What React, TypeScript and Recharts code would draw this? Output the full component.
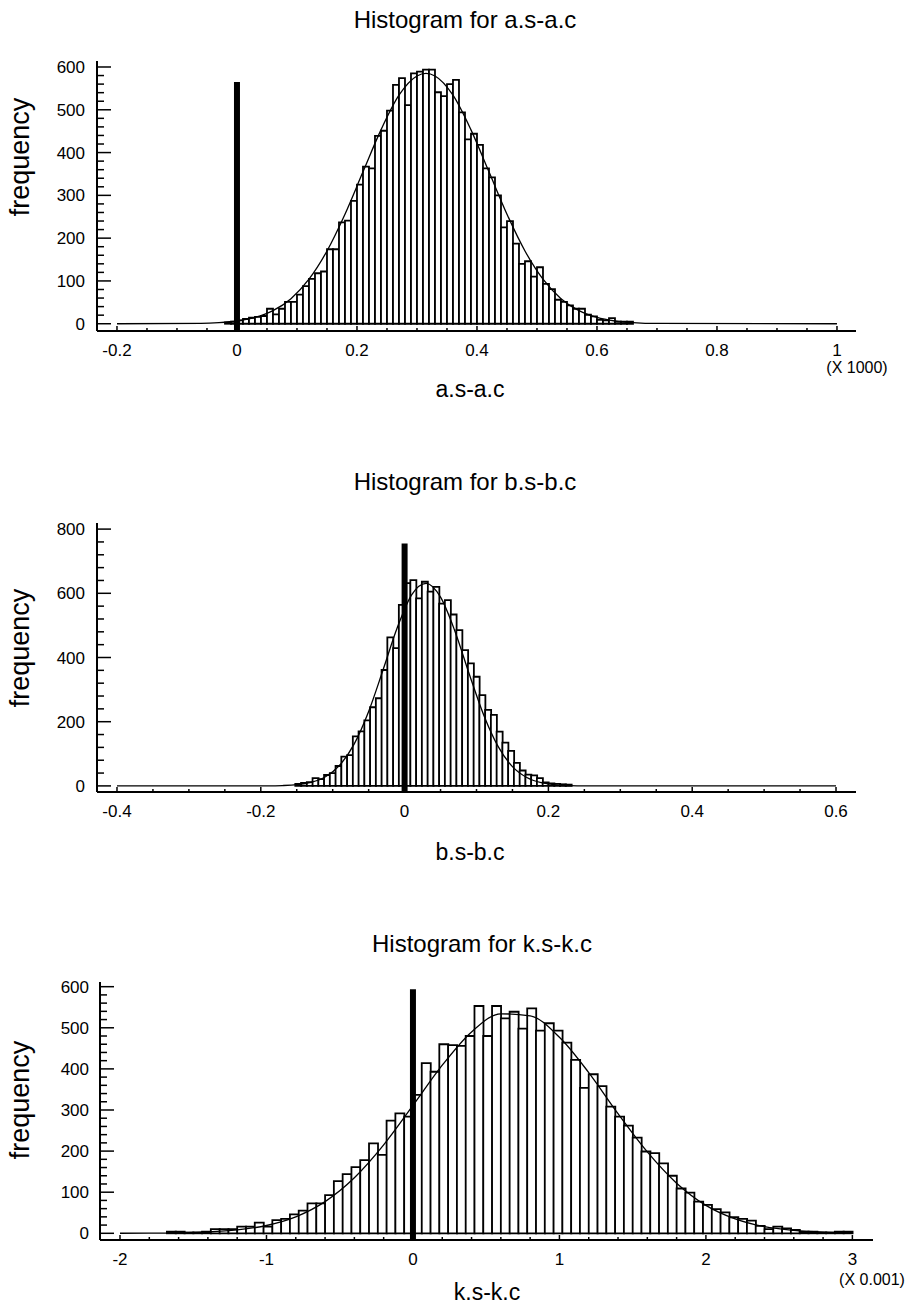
import React from 'react';
import { ComposedChart, Bar, Line, XAxis, YAxis, ReferenceLine } from 'recharts';

const FONT = '"Liberation Sans", Arial, Helvetica, sans-serif';

// ---- panel 1: a.s-a.c (x axis shown X 1000) ----
const aBinStart = -0.02;
const aBinWidth = 0.01;
const aCounts = [3, 5, 8, 11, 14, 16, 18, 35, 22, 35, 51, 51, 68, 88, 105, 118, 122, 174, 174, 237, 241, 287, 325, 367, 363, 439, 451, 498, 558, 574, 511, 585, 589, 594, 594, 541, 532, 560, 570, 494, 431, 444, 418, 363, 342, 300, 225, 240, 187, 140, 146, 110, 132, 93, 81, 56, 51, 43, 35, 35, 21, 17, 9, 8, 13, 5, 5, 5];
const aFitX = [-0.2, -0.06, -0.03, 0, 0.03, 0.06, 0.09, 0.12, 0.15, 0.18, 0.21, 0.24, 0.27, 0.3, 0.315, 0.33, 0.36, 0.39, 0.42, 0.45, 0.48, 0.51, 0.54, 0.57, 0.6, 0.63, 0.66, 0.7, 1.0];
const aFitY = [0, 0.8, 2.5, 6.4, 14.6, 30.5, 58.6, 104, 170, 256, 355, 453, 534, 579, 585, 579, 534, 453, 355, 256, 170, 104, 58.6, 30.5, 14.6, 6.4, 2.6, 0.6, 0];
const aXMajor = [-0.2, 0, 0.2, 0.4, 0.6, 0.8, 1];
const aYMajor = [0, 100, 200, 300, 400, 500, 600];
const aMarker = 565;

// ---- panel 2: b.s-b.c ----
const bBinStart = -0.152;
const bBinWidth = 0.008;
const bCounts = [6, 9, 12, 24, 21, 34, 40, 62, 91, 96, 154, 170, 204, 245, 273, 361, 463, 429, 564, 632, 641, 584, 636, 605, 620, 568, 579, 534, 485, 423, 382, 340, 283, 237, 221, 169, 135, 109, 72, 48, 35, 33, 24, 11, 8, 6, 5, 4];
const bFitX = [-0.4, -0.19, -0.17, -0.15, -0.13, -0.11, -0.09, -0.07, -0.05, -0.03, -0.01, 0.01, 0.03, 0.05, 0.07, 0.09, 0.11, 0.13, 0.15, 0.17, 0.19, 0.21, 0.23, 0.25, 0.6];
const bFitY = [0, 0.3, 1.1, 3.7, 11, 28.5, 65, 131, 232, 361, 494, 596, 631, 588, 482, 348, 221, 123, 60, 26, 9.9, 3.3, 1, 0.3, 0];
const bXMajor = [-0.4, -0.2, 0, 0.2, 0.4, 0.6];
const bYMajor = [0, 200, 400, 600, 800];
const bMarker = 755;

// ---- panel 3: k.s-k.c (x axis shown X 0.001) ----
const kBinStart = -1.68;
const kBinWidth = 0.06;
const kCounts = [4, 4, 2, 2, 4, 10, 10, 10, 16, 16, 26, 16, 32, 35, 46, 55, 73, 73, 93, 127, 144, 161, 178, 219, 191, 274, 292, 284, 337, 414, 393, 460, 458, 456, 480, 553, 480, 553, 523, 539, 498, 547, 493, 511, 493, 464, 422, 354, 387, 358, 308, 284, 262, 233, 199, 195, 170, 140, 109, 99, 77, 69, 59, 51, 39, 35, 31, 18, 10, 16, 12, 8, 4, 4, 2, 2, 4, 4];
const kFitX = [-2, -1.8, -1.6, -1.4, -1.2, -1, -0.8, -0.6, -0.4, -0.2, 0, 0.2, 0.4, 0.6, 0.8, 1, 1.2, 1.4, 1.6, 1.8, 2, 2.2, 2.4, 2.6, 2.8, 3];
const kFitY = [0.1, 0.4, 1.1, 3.2, 8.2, 19, 40, 77, 135, 215, 311, 409, 490, 534, 529, 477, 391, 291, 198, 122, 68, 35, 16, 6.9, 2.6, 0.9];
const kXMajor = [-2, -1, 0, 1, 2, 3];
const kYMajor = [0, 100, 200, 300, 400, 500, 600];
const kMarker = 594;

const isIn = (arr: number[], v: number) => arr.some((a) => Math.abs(a - v) < 1e-7);

const minors = (from: number, to: number, step: number, skip: number[]) => {
  const out: number[] = [];
  for (let i = 0; from + i * step <= to + 1e-9; i++) {
    const v = Math.round((from + i * step) * 1e6) / 1e6;
    if (!isIn(skip, v)) out.push(v);
  }
  return out;
};

const XTick = (props: any) => {
  const { x, y, payload, side, majors } = props;
  const major = isIn(majors, payload.value);
  const len = major ? 5 : 3;
  const dir = side === 'bottom' ? -1 : 1;
  return (
    <g>
      <line x1={x} x2={x} y1={y} y2={y + dir * len} stroke="#000" strokeWidth={1.5} />
      {side === 'bottom' && major && (
        <text x={x} y={y + 25} textAnchor="middle" fontSize={17} fontFamily={FONT} fill="#000">
          {String(payload.value)}
        </text>
      )}
    </g>
  );
};

const YTick = (props: any) => {
  const { x, y, payload, side, majors, gap } = props;
  const major = isIn(majors, payload.value);
  const len = major ? 14 : 7;
  const dir = side === 'left' ? 1 : -1;
  return (
    <g>
      <line x1={x} x2={x + dir * len} y1={y} y2={y} stroke="#000" strokeWidth={1.5} />
      {side === 'left' && major && (
        <text x={x - gap} y={y + 6} textAnchor="end" fontSize={17} fontFamily={FONT} fill="#000">
          {String(payload.value)}
        </text>
      )}
    </g>
  );
};

type PanelProps = {
  top: number;
  left: number;
  right: number;
  bottom: number;
  xDomain: [number, number];
  yDomain: [number, number];
  counts: number[];
  binStart: number;
  binWidth: number;
  fitX: number[];
  fitY: number[];
  xMajor: number[];
  xStep: number;
  yMajor: number[];
  yStep: number;
  marker: number;
  labelGap: number;
};

function Panel(p: PanelProps) {
  const bins = p.counts.map((c, i) => ({ x: p.binStart + (i + 0.5) * p.binWidth, count: c }));
  const fit = p.fitX.map((x, i) => ({ fx: x, fit: p.fitY[i] }));
  const xTicks = [...p.xMajor, ...minors(p.xMajor[0], p.xMajor[p.xMajor.length - 1], p.xStep, p.xMajor)].sort((a, b) => a - b);
  const yTicks = [...p.yMajor, ...minors(0, p.yMajor[p.yMajor.length - 1], p.yStep, p.yMajor)].sort((a, b) => a - b);
  const axisLine = { stroke: '#000', strokeWidth: 2 };
  return (
    <div style={{ position: 'absolute', left: 0, top: p.top - 10 }}>
      <ComposedChart
        width={917}
        height={p.bottom - p.top + 50}
        data={bins}
        barCategoryGap={0}
        barGap={0}
        margin={{ top: 10, right: 917 - p.right, bottom: 0, left: 0 }}
      >
        <XAxis
          xAxisId="b"
          type="number"
          dataKey="x"
          domain={p.xDomain}
          allowDataOverflow
          ticks={xTicks}
          interval={0}
          height={40}
          tickSize={0}
          tickMargin={0}
          tickLine={false}
          axisLine={axisLine}
          tick={(t: any) => <XTick {...t} side="bottom" majors={p.xMajor} />}
        />
        <XAxis
          xAxisId="t"
          orientation="top"
          type="number"
          dataKey="x"
          domain={p.xDomain}
          allowDataOverflow
          ticks={xTicks}
          interval={0}
          height={0}
          tickSize={0}
          tickMargin={0}
          tickLine={false}
          axisLine={axisLine}
          tick={(t: any) => <XTick {...t} side="top" majors={p.xMajor} />}
        />
        <XAxis xAxisId="f" type="number" dataKey="fx" domain={p.xDomain} allowDataOverflow hide />
        <YAxis
          yAxisId="l"
          type="number"
          domain={p.yDomain}
          allowDataOverflow
          ticks={yTicks}
          interval={0}
          width={p.left}
          tickSize={0}
          tickMargin={0}
          tickLine={false}
          axisLine={axisLine}
          tick={(t: any) => <YTick {...t} side="left" majors={p.yMajor} gap={p.labelGap} />}
        />
        <YAxis
          yAxisId="r"
          orientation="right"
          type="number"
          domain={p.yDomain}
          allowDataOverflow
          ticks={yTicks}
          interval={0}
          width={0}
          tickSize={0}
          tickMargin={0}
          tickLine={false}
          axisLine={axisLine}
          tick={(t: any) => <YTick {...t} side="right" majors={p.yMajor} gap={0} />}
        />
        <Bar
          xAxisId="b"
          yAxisId="l"
          dataKey="count"
          fill="#fff"
          stroke="#000"
          strokeWidth={1.8}
          isAnimationActive={false}
        />
        <Line
          xAxisId="f"
          yAxisId="l"
          data={fit}
          dataKey="fit"
          type="monotone"
          stroke="#000"
          strokeWidth={1.3}
          dot={false}
          isAnimationActive={false}
        />
        <ReferenceLine
          xAxisId="b"
          yAxisId="l"
          segment={[{ x: 0, y: p.yDomain[0] }, { x: 0, y: p.marker }]}
          stroke="#000"
          strokeWidth={6}
          ifOverflow="visible"
        />
      </ComposedChart>
    </div>
  );
}

const txt = { fontFamily: FONT, fill: '#000' };

export default function App() {
  return (
    <div style={{ position: 'absolute', left: 0, top: 0, width: 917, height: 1309, background: '#fff' }}>
      <Panel
        top={61}
        left={97}
        right={856}
        bottom={331}
        xDomain={[-0.2333, 1.0317]}
        yDomain={[-17, 614]}
        counts={aCounts}
        binStart={aBinStart}
        binWidth={aBinWidth}
        fitX={aFitX}
        fitY={aFitY}
        xMajor={aXMajor}
        xStep={0.05}
        yMajor={aYMajor}
        yStep={20}
        marker={aMarker}
        labelGap={12}
      />
      <Panel
        top={523}
        left={97}
        right={856}
        bottom={792}
        xDomain={[-0.4278, 0.6278]}
        yDomain={[-19, 819]}
        counts={bCounts}
        binStart={bBinStart}
        binWidth={bBinWidth}
        fitX={bFitX}
        fitY={bFitY}
        xMajor={bXMajor}
        xStep={0.05}
        yMajor={bYMajor}
        yStep={40}
        marker={bMarker}
        labelGap={12}
      />
      <Panel
        top={982}
        left={100}
        right={873}
        bottom={1240}
        xDomain={[-2.1366, 3.1408]}
        yDomain={[-16.3, 611.4]}
        counts={kCounts}
        binStart={kBinStart}
        binWidth={kBinWidth}
        fitX={kFitX}
        fitY={kFitY}
        xMajor={kXMajor}
        xStep={0.2}
        yMajor={kYMajor}
        yStep={20}
        marker={kMarker}
        labelGap={11}
      />
      <svg width={917} height={1309} style={{ position: 'absolute', left: 0, top: 0, pointerEvents: 'none' }}>
        <text x={465} y={28} textAnchor="middle" fontSize={24} {...txt}>Histogram for a.s-a.c</text>
        <text x={470} y={397} textAnchor="middle" fontSize={23} {...txt}>a.s-a.c</text>
        <text x={857} y={373} textAnchor="middle" fontSize={16} {...txt}>(X 1000)</text>
        <text x={29} y={157} textAnchor="middle" fontSize={27} transform="rotate(-90 29 157)" {...txt}>frequency</text>

        <text x={465} y={490} textAnchor="middle" fontSize={24} {...txt}>Histogram for b.s-b.c</text>
        <text x={470} y={860} textAnchor="middle" fontSize={23} {...txt}>b.s-b.c</text>
        <text x={29} y={648} textAnchor="middle" fontSize={27} transform="rotate(-90 29 648)" {...txt}>frequency</text>

        <text x={482} y={952} textAnchor="middle" fontSize={24} {...txt}>Histogram for k.s-k.c</text>
        <text x={487} y={1300} textAnchor="middle" fontSize={23} {...txt}>k.s-k.c</text>
        <text x={872} y={1285} textAnchor="middle" fontSize={16} {...txt}>(X 0.001)</text>
        <text x={29} y={1100} textAnchor="middle" fontSize={27} transform="rotate(-90 29 1100)" {...txt}>frequency</text>
      </svg>
    </div>
  );
}
